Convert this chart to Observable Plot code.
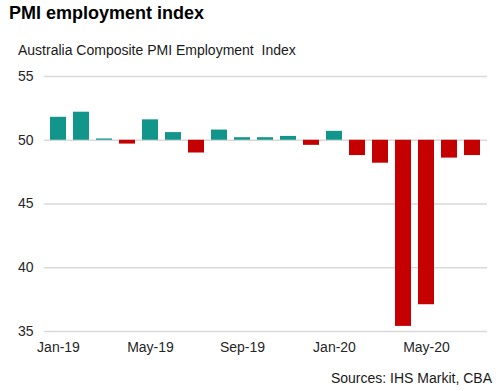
<!DOCTYPE html>
<html><head><meta charset="utf-8">
<script src="https://cdn.jsdelivr.net/npm/d3@7"></script>
<script src="https://cdn.jsdelivr.net/npm/@observablehq/plot@0.6"></script>
<style>
body{margin:0;background:#fff;font-family:Arial,"Liberation Sans",sans-serif;}
#wrap{position:relative;width:496px;height:391px;overflow:hidden;background:#fff}
#title{position:absolute;left:9px;top:2px;font-size:18px;font-weight:bold;line-height:22px;color:#000;white-space:pre}
#sub{position:absolute;left:18px;top:42px;font-size:14px;line-height:16px;color:#1a1a1a;white-space:pre}
#chart{position:absolute;left:0;top:62px}
#src{position:absolute;right:4px;top:370px;font-size:14px;line-height:16px;color:#1a1a1a;white-space:pre}
</style></head>
<body>
<div id="wrap">
<div id="title">PMI employment index</div>
<div id="sub">Australia Composite PMI Employment  Index</div>
<div id="chart"></div>
<div id="src">Sources: IHS Markit, CBA</div>
</div>
<script>
const months = ["Jan-19","Feb-19","Mar-19","Apr-19","May-19","Jun-19","Jul-19","Aug-19","Sep-19","Oct-19","Nov-19","Dec-19","Jan-20","Feb-20","Mar-20","Apr-20","May-20","Jun-20","Jul-20"];
const values = [51.8,52.2,50.1,49.7,51.6,50.6,49.0,50.8,50.2,50.2,50.3,49.6,50.7,48.8,48.2,35.4,37.1,48.6,48.8];
const tickLabels = ["Jan-19","May-19","Sep-19","Jan-20","May-20"];
const yTicks = [35,40,45,50,55];
const baseline = 50;
const teal = "#12968b";
const red = "#c40000";
const data = months.map((m,i)=>({month:m, value:values[i]}));

const chart = Plot.plot({
  width:496, height:300,
  marginTop:14, marginBottom:31, marginLeft:44, marginRight:9,
  style:{fontFamily:'Arial, "Liberation Sans", sans-serif', fontSize:"14px", color:"#262626", background:"transparent"},
  x:{type:"band", domain:months, paddingInner:0.3, paddingOuter:0.15, align:0.5},
  y:{domain:[35,55]},
  marks:[
    Plot.ruleY(yTicks,{stroke:"#d9d9d9", strokeWidth:1.5}),
    Plot.barY(data,{filter:d=>d.value>=baseline, x:"month", y1:baseline, y2:"value", fill:teal}),
    Plot.barY(data,{filter:d=>d.value<baseline, x:"month", y1:baseline, y2:"value", fill:red}),
    Plot.axisY({ticks:yTicks, tickSize:0, tickPadding:11, label:null}),
    Plot.axisX({ticks:tickLabels, tickSize:0, tickPadding:11, label:null})
  ]
});
document.getElementById("chart").appendChild(chart);
</script>
</body></html>
